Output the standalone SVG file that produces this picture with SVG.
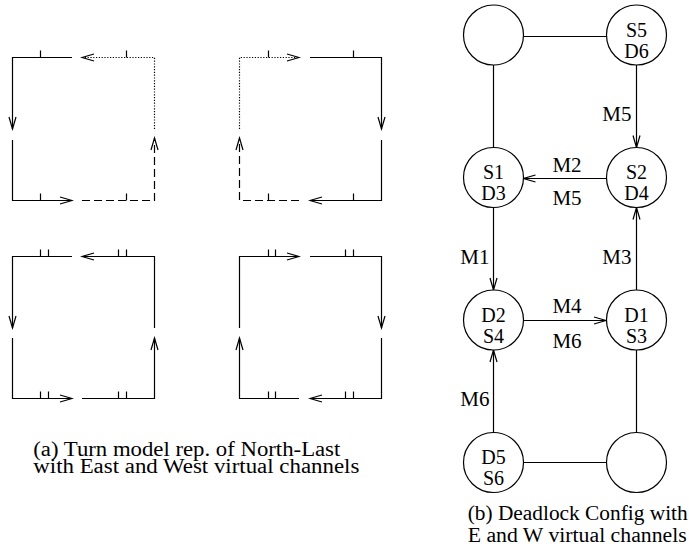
<svg xmlns="http://www.w3.org/2000/svg" width="689" height="548" viewBox="0 0 689 548">
<defs>
<style>
.ln{fill:none;stroke:#000;stroke-width:1.2}
.dot{stroke-dasharray:1.2 1.6}
.dash{stroke-dasharray:8 4}
.nd{fill:#fff;stroke:#000;stroke-width:1.2}
text{font-family:'Liberation Serif','Times New Roman',serif;fill:#000}
.nt{font-size:20px;text-anchor:middle}
.lb{font-size:21px;text-anchor:end}
.lc{font-size:21px;text-anchor:middle}
.cap{font-size:20px}
</style>
<marker id="ah" viewBox="-13 -5 15 10" refX="0" refY="0" markerWidth="15" markerHeight="10" markerUnits="userSpaceOnUse" orient="auto">
<path d="M-12,-3.5 L0,0 L-12,3.5" fill="none" stroke="#000" stroke-width="1.2"/>
</marker>
</defs>
<rect width="689" height="548" fill="#fff"/>

<g id="square-a1">
<polyline class="ln" points="72,57.5 12.5,57.5 12.5,129" marker-end="url(#ah)"/>
<polyline class="ln dot" points="154.5,129 154.5,57.5 82,57.5" marker-end="url(#ah)"/>
<polyline class="ln" points="12.5,140 12.5,200.5 72,200.5" marker-end="url(#ah)"/>
<polyline class="ln dash" points="82,200.5 154.5,200.5 154.5,138" marker-end="url(#ah)"/>
<path class="ln" d="M40.5,50.5V57.5M126.5,50.5V57.5M40.5,193.5V200.5M126.5,193.5V200.5"/>
</g>

<g id="square-a2">
<polyline class="ln dot" points="239.5,129 239.5,57.5 299,57.5" marker-end="url(#ah)"/>
<polyline class="ln" points="310,57.5 381.5,57.5 381.5,129" marker-end="url(#ah)"/>
<polyline class="ln" points="381.5,140 381.5,200.5 310,200.5" marker-end="url(#ah)"/>
<polyline class="ln dash" points="299,200.5 239.5,200.5 239.5,138" marker-end="url(#ah)"/>
<path class="ln" d="M268.5,50.5V57.5M353.5,50.5V57.5M268.5,193.5V200.5M353.5,193.5V200.5"/>
</g>

<g id="square-a3">
<polyline class="ln" points="72,256.5 12.5,256.5 12.5,328" marker-end="url(#ah)"/>
<polyline class="ln" points="154.5,328 154.5,256.5 82,256.5" marker-end="url(#ah)"/>
<polyline class="ln" points="12.5,338 12.5,398.5 72,398.5" marker-end="url(#ah)"/>
<polyline class="ln" points="82,398.5 154.5,398.5 154.5,338" marker-end="url(#ah)"/>
<path class="ln" d="M40.5,249.5V256.5M48.5,249.5V256.5M118.5,249.5V256.5M126.5,249.5V256.5M40.5,391.5V398.5M48.5,391.5V398.5M118.5,391.5V398.5M126.5,391.5V398.5"/>
</g>

<g id="square-a4">
<polyline class="ln" points="239.5,328 239.5,256.5 299,256.5" marker-end="url(#ah)"/>
<polyline class="ln" points="310,256.5 381.5,256.5 381.5,328" marker-end="url(#ah)"/>
<polyline class="ln" points="381.5,338 381.5,398.5 310,398.5" marker-end="url(#ah)"/>
<polyline class="ln" points="299,398.5 239.5,398.5 239.5,338" marker-end="url(#ah)"/>
<path class="ln" d="M268.5,249.5V256.5M275.5,249.5V256.5M345.5,249.5V256.5M353.5,249.5V256.5M268.5,391.5V398.5M275.5,391.5V398.5M345.5,391.5V398.5M353.5,391.5V398.5"/>
</g>

<g id="caption-a">
<text class="cap" x="33.3" y="456" textLength="307" lengthAdjust="spacingAndGlyphs">(a) Turn model rep. of North-Last</text>
<text class="cap" x="33.3" y="473" textLength="326" lengthAdjust="spacingAndGlyphs">with East and West virtual channels</text>
</g>

<g id="connectors">
<line class="ln" x1="523.5" y1="36.5" x2="606" y2="36.5"/>
<line class="ln" x1="493.5" y1="65" x2="493.5" y2="147.5"/>
<line class="ln" x1="636.5" y1="65" x2="636.5" y2="147.5" marker-end="url(#ah)"/>
<line class="ln" x1="606" y1="178.5" x2="523.5" y2="178.5" marker-end="url(#ah)"/>
<line class="ln" x1="493.5" y1="207.5" x2="493.5" y2="290" marker-end="url(#ah)"/>
<line class="ln" x1="636.5" y1="290" x2="636.5" y2="207.5" marker-end="url(#ah)"/>
<line class="ln" x1="523.5" y1="320.5" x2="606" y2="320.5" marker-end="url(#ah)"/>
<line class="ln" x1="493.5" y1="432.5" x2="493.5" y2="350" marker-end="url(#ah)"/>
<line class="ln" x1="636.5" y1="350" x2="636.5" y2="432.5"/>
<line class="ln" x1="523.5" y1="462.5" x2="606" y2="462.5"/>
<text class="lb" x="631.5" y="121">M5</text>
<text class="lc" x="567" y="172">M2</text>
<text class="lc" x="567" y="205">M5</text>
<text class="lb" x="489.5" y="264">M1</text>
<text class="lb" x="631.5" y="264">M3</text>
<text class="lc" x="567" y="313">M4</text>
<text class="lc" x="567" y="348">M6</text>
<text class="lb" x="489.5" y="406">M6</text>
</g>

<g id="node-nw"><circle class="nd" cx="493.5" cy="35" r="30"/></g>
<g id="node-s5d6"><circle class="nd" cx="636.5" cy="35" r="30"/><text class="nt" x="636.5" y="36.5">S5</text><text class="nt" x="636.5" y="57.5">D6</text></g>
<g id="node-s1d3"><circle class="nd" cx="493.5" cy="177.5" r="30"/><text class="nt" x="493.5" y="179">S1</text><text class="nt" x="493.5" y="200">D3</text></g>
<g id="node-s2d4"><circle class="nd" cx="636.5" cy="177.5" r="30"/><text class="nt" x="636.5" y="179">S2</text><text class="nt" x="636.5" y="200">D4</text></g>
<g id="node-d2s4"><circle class="nd" cx="493.5" cy="320" r="30"/><text class="nt" x="493.5" y="321.5">D2</text><text class="nt" x="493.5" y="342.5">S4</text></g>
<g id="node-d1s3"><circle class="nd" cx="636.5" cy="320" r="30"/><text class="nt" x="636.5" y="321.5">D1</text><text class="nt" x="636.5" y="342.5">S3</text></g>
<g id="node-d5s6"><circle class="nd" cx="493.5" cy="462.5" r="30"/><text class="nt" x="493.5" y="464">D5</text><text class="nt" x="493.5" y="485">S6</text></g>
<g id="node-se"><circle class="nd" cx="636.5" cy="462.5" r="30"/></g>

<g id="caption-b">
<text class="cap" x="467.7" y="520" textLength="220" lengthAdjust="spacingAndGlyphs">(b) Deadlock Config with</text>
<text class="cap" x="467.7" y="542" textLength="219" lengthAdjust="spacingAndGlyphs">E and W virtual channels</text>
</g>
</svg>
